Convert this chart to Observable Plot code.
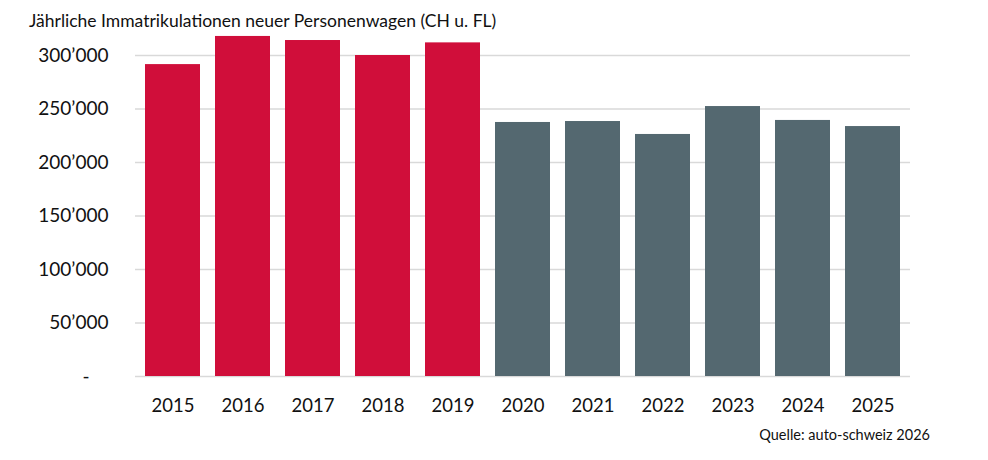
<!DOCTYPE html>
<html>
<head>
<meta charset="utf-8">
<script src="https://cdn.jsdelivr.net/npm/d3@7"></script>
<script src="https://cdn.jsdelivr.net/npm/@observablehq/plot@0.6"></script>
<style>
  html, body { margin: 0; padding: 0; background: #fff; }
  #wrap { position: relative; width: 988px; height: 460px; font-family: Lato, "Open Sans", sans-serif; color: #111; overflow: hidden; }
  #title { position: absolute; left: 29px; top: 12px; font-size: 17.5px; line-height: 1; white-space: nowrap; }
  #chart { position: absolute; left: 0; top: 34px; }
  #caption { position: absolute; right: 58px; top: 428px; font-size: 14.5px; line-height: 1; white-space: nowrap; }
</style>
</head>
<body>
<div id="wrap">
  <div id="title">Jährliche Immatrikulationen neuer Personenwagen (CH u. FL)</div>
  <div id="chart"></div>
  <div id="caption">Quelle: auto-schweiz 2026</div>
</div>
<script>
const years = ["2015","2016","2017","2018","2019","2020","2021","2022","2023","2024","2025"];
const registrations = [291500, 317800, 314000, 300000, 311800, 237400, 238300, 226200, 252300, 239300, 233600];
const groups = ["vor 2020","vor 2020","vor 2020","vor 2020","vor 2020","ab 2020","ab 2020","ab 2020","ab 2020","ab 2020","ab 2020"];
const yTicks = [0, 50000, 100000, 150000, 200000, 250000, 300000];
const groupNames = ["vor 2020", "ab 2020"];
const groupColors = ["#D00E3A", "#546870"];

const data = years.map((y, i) => ({year: y, value: registrations[i], group: groups[i]}));

const fmt = d => d === 0 ? "-\u2002\u2002" : d3.format(",")(d).replace(/,/g, "\u2019");

const plot = Plot.plot({
  width: 988,
  height: 392,
  marginLeft: 135,
  marginRight: 78,
  marginTop: 21,
  marginBottom: 50,
  style: {fontFamily: "Lato, 'Open Sans', sans-serif", fontSize: "18.5px", color: "#111", background: "#fff", overflow: "visible"},
  x: {domain: years, paddingInner: 0.215, paddingOuter: 0.11, label: null},
  y: {domain: [0, 300000], label: null},
  color: {domain: groupNames, range: groupColors},
  marks: [
    Plot.ruleY(yTicks, {stroke: "#d9d9d9", strokeWidth: 1.3}),
    Plot.barY(data, {x: "year", y: "value", fill: "group"}),
    Plot.axisX({tickSize: 0, tickPadding: 22, fontSize: 18.5, fill: "#111"}),
    Plot.axisY({ticks: yTicks, tickFormat: fmt, tickSize: 0, tickPadding: 27, fontSize: 19, fill: "#111"})
  ]
});
document.getElementById("chart").appendChild(plot);
</script>
</body>
</html>
